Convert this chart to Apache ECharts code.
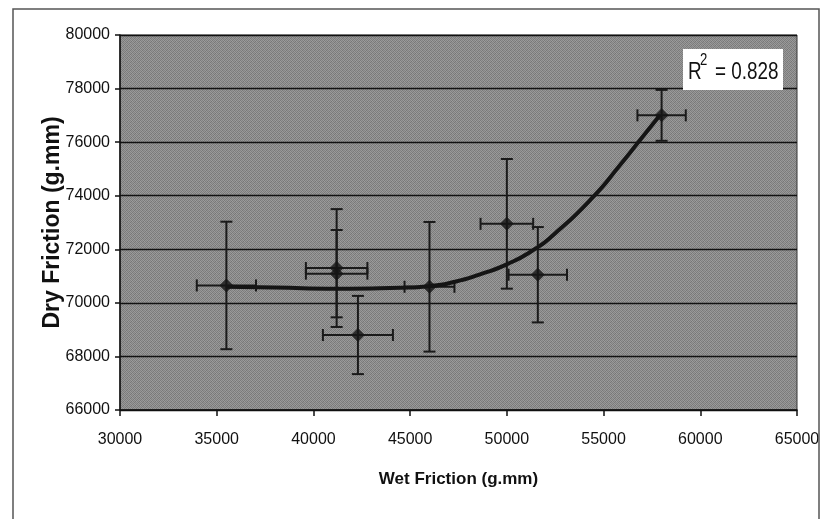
<!DOCTYPE html>
<html>
<head>
<meta charset="utf-8">
<script src="https://cdn.jsdelivr.net/npm/echarts@6/dist/echarts.min.js"></script>
<style>
html,body{margin:0;padding:0;background:#fff;overflow:hidden;}
#chart{width:822px;height:519px;}
</style>
</head>
<body>
<div id="chart"></div>
<script>
// ---- data ----
const wetFriction = [35500, 41200, 41200, 42300, 46000, 50000, 51600, 58000];
const dryFriction = [70650, 71300, 71090, 68800, 70600, 72950, 71050, 77000];
const wetError    = [1530, 1590, 1590, 1810, 1290, 1360, 1510, 1250];
const dryError    = [2380, 2200, 1630, 1460, 2420, 2420, 1780, 950];

// trend line (as drawn in the reference)
const trendWet = [35465, 38000, 41205, 44477, 46029, 47322, 48614, 49993, 51369, 52403, 54473, 55853, 56887, 57921];
const trendDry = [70603, 70570, 70525, 70566, 70629, 70790, 71066, 71439, 71973, 72533, 73964, 75150, 76080, 77013];

const xTicks = [30000, 35000, 40000, 45000, 50000, 55000, 60000, 65000];
const yTicks = [66000, 68000, 70000, 72000, 74000, 76000, 78000, 80000];
const rSquared = '0.828';

// ---- build ----
const pts = wetFriction.map((x, i) => [x, dryFriction[i], wetError[i], dryError[i]]);
const trend = trendWet.map((x, i) => [x, trendDry[i]]);

const pc = document.createElement('canvas');
pc.width = 4; pc.height = 4;
const g = pc.getContext('2d');
const shades = [['#7a7a7a','#989898','#828282','#9c9c9c'],['#9e9e9e','#7e7e7e','#969696','#767676'],['#848484','#9a9a9a','#787878','#949494'],['#969696','#7a7a7a','#9c9c9c','#808080']];
for (let r = 0; r < 4; r++) for (let c = 0; c < 4; c++) { g.fillStyle = shades[r][c]; g.fillRect(c, r, 1, 1); }

const SANS = '"Liberation Sans", Arial, sans-serif';
const plain = v => String(v);

const chart = echarts.init(document.getElementById('chart'), null, {renderer: 'canvas'});
chart.setOption({
  backgroundColor: '#ffffff',
  animation: false,
  grid: {
    left: 120, top: 35, right: 25, bottom: 109,
    containLabel: false,
    outerBoundsMode: 'none',
    show: true,
    backgroundColor: {image: pc, repeat: 'repeat'},
    borderColor: '#333', borderWidth: 1
  },
  xAxis: {
    type: 'value', min: xTicks[0], max: xTicks[xTicks.length - 1], interval: 5000,
    name: 'Wet Friction (g.mm)', nameLocation: 'middle', nameGap: 61, nameMoveOverlap: false,
    nameTextStyle: {fontFamily: SANS, fontSize: 17, fontWeight: 'bold', color: '#111'},
    axisLine: {show: true, onZero: false, lineStyle: {color: '#111', width: 1.5}},
    axisTick: {show: true, inside: false, length: 6, lineStyle: {color: '#111', width: 1.5}},
    axisLabel: {fontFamily: SANS, fontSize: 16, color: '#111', margin: 22, formatter: plain, showMaxLabel: true, showMinLabel: true, hideOverlap: false},
    splitLine: {show: false}
  },
  yAxis: {
    type: 'value', min: yTicks[0], max: yTicks[yTicks.length - 1], interval: 2000,
    name: 'Dry Friction (g.mm)', nameLocation: 'middle', nameGap: 56, nameMoveOverlap: false,
    nameTextStyle: {fontFamily: SANS, fontSize: 23, fontWeight: 'bold', color: '#111'},
    axisLine: {show: true, onZero: false, lineStyle: {color: '#111', width: 1.5}},
    axisTick: {show: true, inside: false, length: 5, lineStyle: {color: '#111', width: 1.5}},
    axisLabel: {fontFamily: SANS, fontSize: 16, color: '#111', margin: 10, formatter: plain},
    splitLine: {show: true, lineStyle: {color: '#111', width: 1.3}}
  },
  series: [
    {
      type: 'custom',
      data: pts,
      z: 3,
      renderItem: function (params, api) {
        const x = api.value(0), y = api.value(1), ex = api.value(2), ey = api.value(3);
        const top = api.coord([x, y + ey]), bot = api.coord([x, y - ey]);
        const lft = api.coord([x - ex, y]), rgt = api.coord([x + ex, y]);
        const cap = 6;
        const st = {stroke: '#1a1a1a', lineWidth: 2};
        const ln = (x1, y1, x2, y2) => ({type: 'line', shape: {x1, y1, x2, y2}, style: st});
        return {type: 'group', children: [
          ln(top[0], top[1], bot[0], bot[1]),
          ln(top[0] - cap, top[1], top[0] + cap, top[1]),
          ln(bot[0] - cap, bot[1], bot[0] + cap, bot[1]),
          ln(lft[0], lft[1], rgt[0], rgt[1]),
          ln(lft[0], lft[1] - cap, lft[0], lft[1] + cap),
          ln(rgt[0], rgt[1] - cap, rgt[0], rgt[1] + cap)
        ]};
      }
    },
    {
      type: 'line',
      data: trend,
      smooth: 0.6,
      showSymbol: false,
      z: 4,
      lineStyle: {color: '#151515', width: 4},
      silent: true
    },
    {
      type: 'scatter',
      data: pts.map(p => [p[0], p[1]]),
      symbol: 'diamond',
      symbolSize: 14,
      z: 5,
      itemStyle: {color: '#151515'}
    }
  ],
  graphic: [
    {type: 'rect', shape: {x: 13, y: 9, width: 806, height: 530}, style: {fill: 'none', stroke: '#555', lineWidth: 1.5}, z: 100},
    {type: 'rect', shape: {x: 683, y: 49, width: 100, height: 41}, style: {fill: '#ffffff'}, z: 100},
    {type: 'text', x: 688, y: 73, scaleX: 0.82, style: {text: 'R', font: '23px ' + SANS, fill: '#111', verticalAlign: 'middle'}, z: 101},
    {type: 'text', x: 700, y: 61, scaleX: 0.82, style: {text: '2', font: '16px ' + SANS, fill: '#111', verticalAlign: 'middle'}, z: 101},
    {type: 'text', x: 715, y: 73, scaleX: 0.82, style: {text: '= ' + rSquared, font: '23px ' + SANS, fill: '#111', verticalAlign: 'middle'}, z: 101}
  ]
});
</script>
</body>
</html>
